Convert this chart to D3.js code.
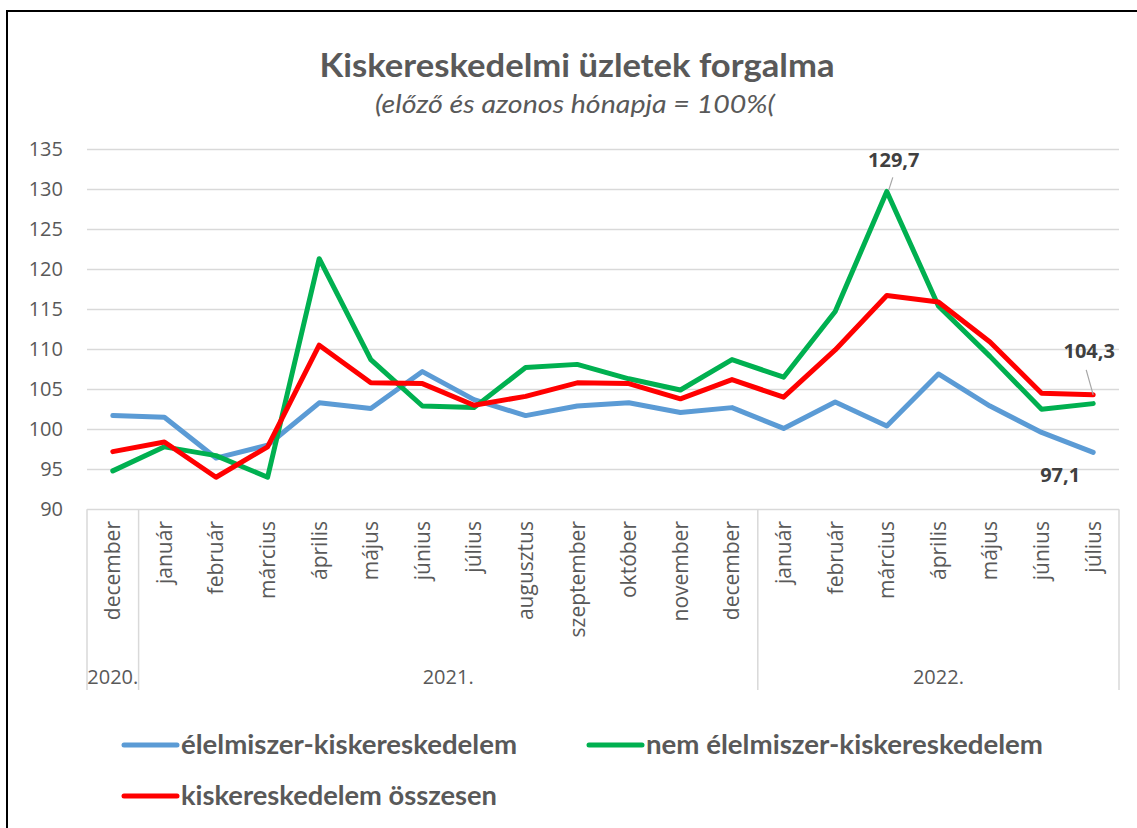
<!DOCTYPE html>
<html>
<head>
<meta charset="utf-8">
<script src="https://cdn.jsdelivr.net/npm/d3@7"></script>
<style>
  html, body { margin: 0; padding: 0; background: #fff; }
  svg { display: block; }
</style>
</head>
<body>
<svg id="chart" width="1137" height="828"></svg>
<script>
// ---------- data ----------
const categories = ["december","január","február","március","április","május","június","július","augusztus","szeptember","október","november","december","január","február","március","április","május","június","július"];
const yearLabels = ["2020.","2021.","2022."];
const yearSpans = [1, 12, 7];
const yTicks = [90,95,100,105,110,115,120,125,130,135];

const seriesNames = ["élelmiszer-kiskereskedelem","nem élelmiszer-kiskereskedelem","kiskereskedelem összesen"];
const foodValues    = [101.7,101.5,96.4,98.0,103.3,102.6,107.2,103.7,101.7,102.9,103.3,102.1,102.7,100.1,103.4,100.4,106.9,102.9,99.6,97.1];
const nonFoodValues = [94.8,97.8,96.7,94.0,121.3,108.7,102.9,102.7,107.7,108.1,106.3,104.9,108.7,106.5,114.7,129.7,115.4,109.1,102.5,103.2];
const totalValues   = [97.2,98.4,94.0,97.8,110.5,105.8,105.7,103.0,104.1,105.8,105.7,103.8,106.2,104.0,109.9,116.7,115.9,110.9,104.5,104.3];

const titleText = "Kiskereskedelmi üzletek forgalma";
const subtitleText = "(előző és azonos hónapja = 100%(";

// ---------- layout ----------
const svg = d3.select("#chart");
const colors = ["#5B9BD5", "#00B050", "#FF0000"];
const plotL = 87, plotR = 1119, plotT = 149, plotB = 509.3;
const axisFont = "'Open Sans', 'Noto Sans', sans-serif";
const condFont = "'Liberation Sans Narrow', 'Lato', 'Open Sans', sans-serif";

// frame
svg.append("rect").attr("x", 7).attr("y", 11).attr("width", 1150).attr("height", 840)
  .attr("fill", "none").attr("stroke", "#000").attr("stroke-width", 2);

function fitText(sel, w) {
  sel.attr("textLength", w).attr("lengthAdjust", "spacingAndGlyphs");
}

// title
svg.append("text").attr("x", 577).attr("y", 77).attr("text-anchor", "middle")
  .attr("font-family", condFont).attr("font-weight", "bold").attr("font-size", 33)
  .attr("fill", "#595959").text(titleText).call(fitText, 515);
svg.append("text").attr("x", 575).attr("y", 113).attr("text-anchor", "middle")
  .attr("font-family", condFont).attr("font-style", "italic").attr("font-size", 25)
  .attr("fill", "#595959").text(subtitleText).call(fitText, 400);

// scales
const x = d3.scaleBand().domain(d3.range(categories.length)).range([plotL, plotR]);
const cx = i => x(i) + x.bandwidth() / 2;
const y = d3.scaleLinear().domain([90, 135]).range([plotB, plotT]);

// gridlines
svg.append("g").selectAll("line").data(yTicks).join("line")
  .attr("x1", plotL).attr("x2", plotR)
  .attr("y1", d => Math.round(y(d)) + 0.5).attr("y2", d => Math.round(y(d)) + 0.5)
  .attr("stroke", "#D9D9D9").attr("stroke-width", 1.5);

// y axis labels
const yAxis = d3.axisLeft(y).tickValues(yTicks).tickSize(0).tickPadding(0);
const yg = svg.append("g").attr("transform", `translate(63,0)`).call(yAxis);
yg.select(".domain").remove();
yg.selectAll("text").attr("font-family", axisFont).attr("font-size", 20).attr("fill", "#595959");

// category axis (multi-level)
const axisBottom = 690;
const bounds = [0];
yearSpans.reduce((acc, s) => { bounds.push(acc + s); return acc + s; }, 0);
svg.append("g").selectAll("line").data(bounds).join("line")
  .attr("x1", d => d === categories.length ? plotR : x(d))
  .attr("x2", d => d === categories.length ? plotR : x(d))
  .attr("y1", plotB).attr("y2", axisBottom)
  .attr("stroke", "#D9D9D9").attr("stroke-width", 1.5);

svg.append("g").selectAll("text").data(categories).join("text")
  .attr("transform", (d, i) => `translate(${cx(i)},521) rotate(-90)`)
  .attr("dy", "0.35em").attr("text-anchor", "end")
  .attr("font-family", axisFont).attr("font-size", 21).attr("fill", "#595959")
  .text(d => d);

svg.append("g").selectAll("text").data(yearLabels).join("text")
  .attr("x", (d, i) => {
    const a = bounds[i], b = bounds[i + 1];
    const xa = x(a), xb = b === categories.length ? plotR : x(b);
    return (xa + xb) / 2;
  })
  .attr("y", 684).attr("text-anchor", "middle")
  .attr("font-family", axisFont).attr("font-size", 20).attr("fill", "#595959")
  .text(d => d);

// lines
const allSeries = [foodValues, nonFoodValues, totalValues];
const line = d3.line().x((d, i) => cx(i)).y(d => y(d));
svg.append("g").selectAll("path").data(allSeries).join("path")
  .attr("d", d => line(d)).attr("fill", "none")
  .attr("stroke", (d, i) => colors[i]).attr("stroke-width", 5)
  .attr("stroke-linejoin", "round").attr("stroke-linecap", "round");

// data labels
const labels = [
  { series: nonFoodValues, idx: 15, dx: 7, dy: -24, leader: true, lx1: 2, ly1: -1.5, lx2: 6, ly2: -14 },
  { series: totalValues, idx: 19, dx: -4, dy: -37, leader: true, lx1: 0, ly1: 0, lx2: -7, ly2: -25 },
  { series: foodValues, idx: 19, dx: -33, dy: 30, leader: false }
];
labels.forEach(l => {
  const px = cx(l.idx), py = y(l.series[l.idx]);
  if (l.leader) {
    svg.append("line").attr("x1", px + l.lx1).attr("y1", py + l.ly1)
      .attr("x2", px + l.lx2).attr("y2", py + l.ly2)
      .attr("stroke", "#A6A6A6").attr("stroke-width", 1.2);
  }
  svg.append("text").attr("x", px + l.dx).attr("y", py + l.dy).attr("text-anchor", "middle")
    .attr("font-family", axisFont).attr("font-weight", "bold").attr("font-size", 20)
    .attr("fill", "#404040").text(d3.format(".1f")(l.series[l.idx]).replace(".", ","));
});

// legend
const legendItems = [
  { name: seriesNames[0], color: colors[0], x0: 124, y0: 745, w: 336 },
  { name: seriesNames[1], color: colors[1], x0: 589, y0: 745, w: 397 },
  { name: seriesNames[2], color: colors[2], x0: 124, y0: 796, w: 316 }
];
const lg = svg.append("g");
legendItems.forEach(it => {
  lg.append("line").attr("x1", it.x0).attr("x2", it.x0 + 53).attr("y1", it.y0).attr("y2", it.y0)
    .attr("stroke", it.color).attr("stroke-width", 5).attr("stroke-linecap", "round");
  lg.append("text").attr("x", it.x0 + 57).attr("y", it.y0 + 9)
    .attr("font-family", condFont).attr("font-weight", "bold").attr("font-size", 26)
    .attr("fill", "#595959").text(it.name).call(fitText, it.w);
});
</script>
</body>
</html>
